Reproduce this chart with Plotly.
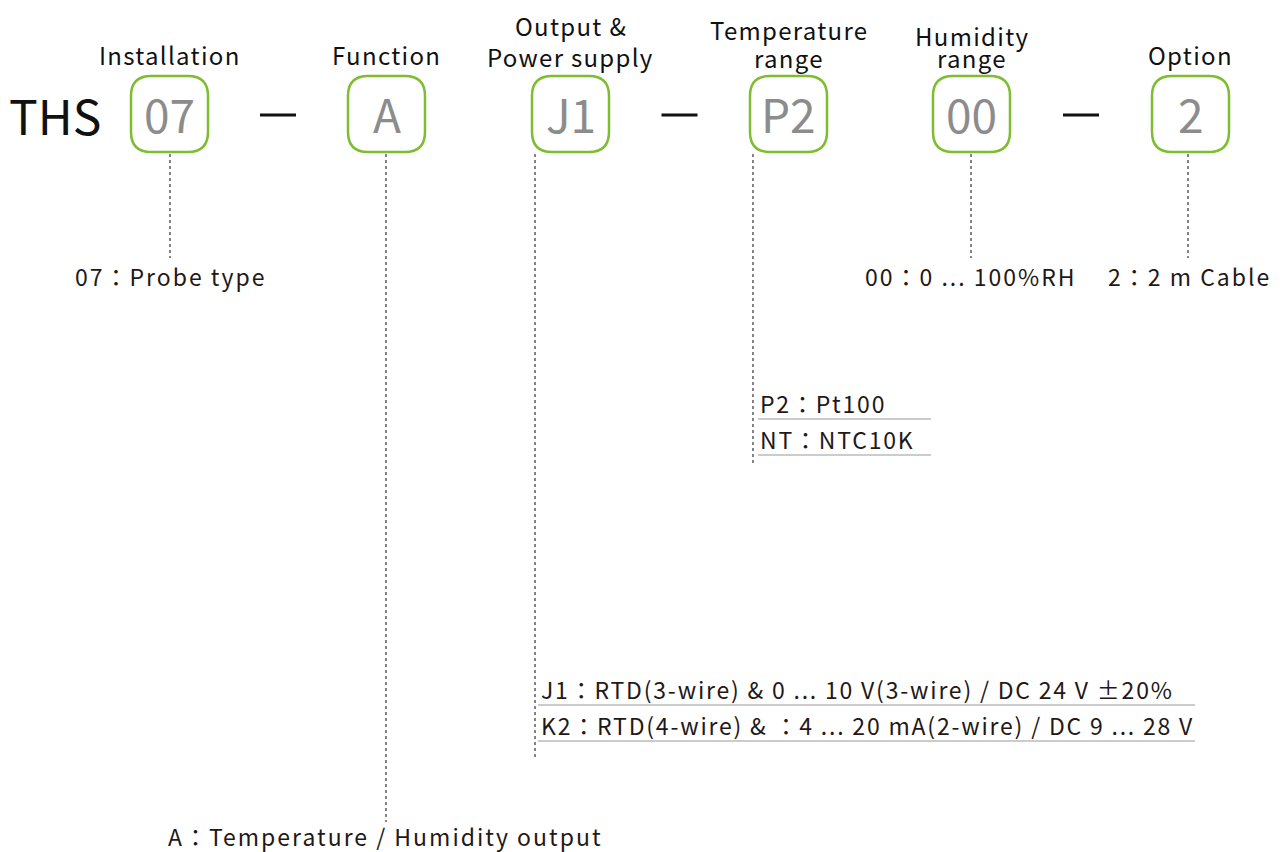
import plotly.graph_objects as go

# ---- data ----
prefix = "THS"
codes = ["07", "A", "J1", "P2", "00", "2"]
headings = [["Installation"], ["Function"], ["Output &", "Power supply"],
            ["Temperature", "range"], ["Humidity", "range"], ["Option"]]
single_desc = {
    "07": "07：Probe type",
    "A": "A：Temperature / Humidity output",
    "00": "00：0 ... 100%RH",
    "2": "2：2 m Cable",
}
list_desc = {
    "J1": ["J1：RTD(3-wire) & 0 ... 10 V(3-wire) / DC 24 V ±20%",
           "K2：RTD(4-wire) & ：4 ... 20 mA(2-wire) / DC 9 ... 28 V"],
    "P2": ["P2：Pt100", "NT：NTC10K"],
}

# ---- layout geometry (pixels) ----
W, H = 1283, 852
OFF = 8  # page body margin
box_x0 = [131, 348, 532, 750, 933, 1152]
box_w, box_top, box_bot, rad = 77, 76, 152, 20
dash_after = [0, 2, 4]
heading_y = [[54], [54], [25, 56], [29, 57], [35, 57], [54]]
line_x = [170, 386, 535, 753, 971, 1188]
line_end = [258, 822, 757, 466, 258, 258]
desc_pos = {"07": (73, 276), "A": (166, 836), "00": (863, 276), "2": (1106, 276)}
list_pos = {"J1": (539, 689, 538, 1195), "P2": (758, 403, 758, 931)}

GREEN = "#7dbd2f"
INK = "#231815"
FONT = "Noto Sans CJK JP"

def spaced(t, s):
    return f'<span style="letter-spacing:{s}px">{t}</span>'

fig = go.Figure()
shapes = []
ann = []

def rrect(x0, y0, x1, y1, r):
    return (f"M {x0+r},{y0} L {x1-r},{y0} Q {x1},{y0} {x1},{y0+r} "
            f"L {x1},{y1-r} Q {x1},{y1} {x1-r},{y1} L {x0+r},{y1} "
            f"Q {x0},{y1} {x0},{y1-r} L {x0},{y0+r} Q {x0},{y0} {x0+r},{y0} Z")

ann.append(dict(x=55, y=114, text=prefix, showarrow=False,
                font=dict(size=48, color="#111", family=FONT),
                xanchor="center", yanchor="middle"))

for i, c in enumerate(codes):
    x0 = box_x0[i]
    x1 = x0 + box_w
    shapes.append(dict(type="path", path=rrect(x0, box_top, x1, box_bot, rad),
                       line=dict(color=GREEN, width=2.5), xref="x", yref="y"))
    ann.append(dict(x=(x0 + x1) / 2, y=113, text=c, showarrow=False,
                    font=dict(size=46, color="#8c8c8c", family=FONT),
                    xanchor="center", yanchor="middle"))
    for t, hy in zip(headings[i], heading_y[i]):
        ann.append(dict(x=(x0 + x1) / 2, y=hy, text=spaced(t, 1.3), showarrow=False,
                        font=dict(size=24, color="#111", family=FONT),
                        xanchor="center", yanchor="middle", borderpad=0))
    shapes.append(dict(type="line", x0=line_x[i], x1=line_x[i], y0=box_bot + 2, y1=line_end[i],
                       line=dict(color="#333", width=1.2, dash="dot"), xref="x", yref="y"))
    if i in dash_after:
        nx = box_x0[i + 1]
        mid = (x1 + nx) / 2
        shapes.append(dict(type="line", x0=mid - 18, x1=mid + 18, y0=115, y1=115,
                           line=dict(color="#111", width=3), xref="x", yref="y"))

for k, t in single_desc.items():
    x, y = desc_pos[k]
    ann.append(dict(x=x, y=y, text=spaced(t, 2.0), showarrow=False,
                    font=dict(size=23, color=INK, family=FONT),
                    xanchor="left", yanchor="middle"))

for k, lines in list_desc.items():
    tx, ty, ux0, ux1 = list_pos[k]
    for j, t in enumerate(lines):
        y = ty + j * 36
        ann.append(dict(x=tx, y=y, text=spaced(t, 1.8), showarrow=False,
                        font=dict(size=23, color=INK, family=FONT),
                        xanchor="left", yanchor="middle"))
        shapes.append(dict(type="line", x0=ux0, x1=ux1, y0=y + 16, y1=y + 16,
                           line=dict(color="#999", width=1.2), xref="x", yref="y"))

fig.update_layout(
    width=W, height=H, margin=dict(l=0, r=0, t=0, b=0),
    paper_bgcolor="white", plot_bgcolor="white",
    xaxis=dict(range=[OFF, W + OFF], visible=False, fixedrange=True),
    yaxis=dict(range=[H + OFF, OFF], visible=False, fixedrange=True),
    shapes=shapes, annotations=ann, showlegend=False,
)
fig.write_html("out.html")
